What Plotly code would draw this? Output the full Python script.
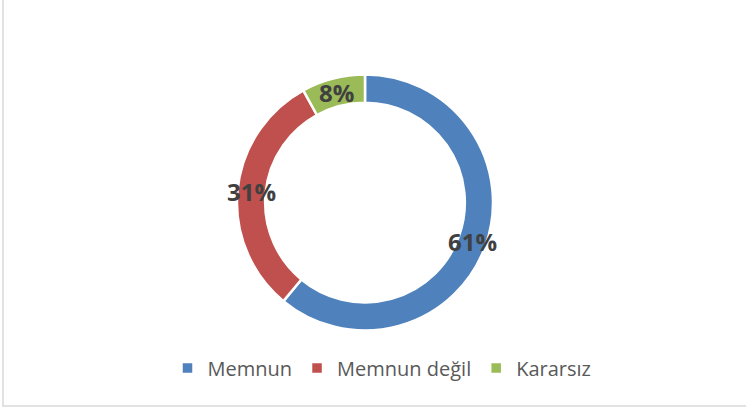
import math
import plotly.graph_objects as go

labels = ["Memnun", "Memnun değil", "Kararsız"]
values = [61, 31, 8]
colors = ["#4F81BD", "#C0504D", "#9BBB59"]

W, H = 746, 411
cx, cy, R = 365, 202.5, 128
hole = 0.78

fig = go.Figure(go.Pie(
    labels=labels, values=values, sort=False, direction="clockwise", rotation=0,
    hole=hole, textinfo="none", hoverinfo="label+percent",
    marker=dict(colors=colors, line=dict(color="white", width=2.5)),
    domain=dict(x=[(cx - R) / W, (cx + R) / W], y=[(H - cy - R) / H, (H - cy + R) / H]),
))

# data labels at middle of ring, computed from values
total = sum(values)
rmid = R * (1 + hole) / 2
cum = 0
for v in values:
    mid = (cum + v / 2) / total * 2 * math.pi
    cum += v
    px = cx + rmid * math.sin(mid)
    py = cy - rmid * math.cos(mid)
    fig.add_annotation(x=px / W, y=(H - py) / H, xref="paper", yref="paper",
                       xanchor="center", yanchor="middle",
                       text=f"<b>{round(v / total * 100)}%</b>", showarrow=False,
                       font=dict(family="Open Sans", size=24, color="#404040"))

fig.add_shape(type="rect", xref="paper", yref="paper",
              x0=3 / W, x1=1.02, y0=(H - 406) / H, y1=1.02,
              line=dict(color="#D9D9D9", width=1.5), fillcolor="rgba(0,0,0,0)")

fig.update_layout(
    width=W, height=H, margin=dict(l=0, r=0, t=0, b=0),
    paper_bgcolor="white", plot_bgcolor="white",
    showlegend=True,
    legend=dict(orientation="h", x=382 / W, xanchor="center", y=(H - 368) / H, yanchor="middle",
                font=dict(family="Open Sans", size=20, color="#595959"),
                itemwidth=30, tracegroupgap=0),
)

fig.write_html("out.html", config={"displayModeBar": False},
               post_script="document.body.style.margin='0';document.body.style.padding='0';")
